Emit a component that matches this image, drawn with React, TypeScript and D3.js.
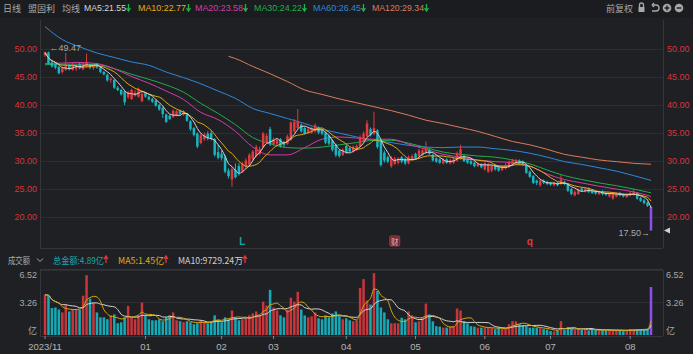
import React from "react";
import * as d3 from "d3";

const W = 693;
const H = 354;

// ---------- data ----------
const opens = [48.8,49.3,47.5,47.2,46.7,45.8,46.2,47.0,46.2,46.4, 47.2,46.3,46.8,47.0,46.5,47.2,46.6,45.8,45.3,44.4, 44.4,43.0,42.6,42.4,41.3,41.0,41.6,41.4,40.6,42.0, 41.4,41.0,40.7,39.9,39.4,38.2,38.0,37.8,38.1,38.9, 38.2,38.4,37.0,35.8,34.8,33.1,33.8,34.8,34.9,33.8, 31.5,31.2,30.6,28.2,26.6,28.3,29.0,28.0,28.9,29.3, 30.2,30.8,31.2,32.4,33.2,35.6,32.9,33.0,33.8,33.2, 33.0,33.7,35.2,35.8,36.4,35.8,34.9,35.0,35.2,35.9, 35.4,35.0,34.4,33.6,32.8,31.8,31.0,32.6,32.2,31.6, 31.9,32.6,33.5,34.4,35.6,34.8,35.4,33.6,31.4,30.6, 29.0,29.4,29.6,30.6,30.3,29.5,30.2,31.2,30.8,31.0, 31.4,31.9,31.0,30.4,30.2,29.5,30.2,29.5,29.6,30.0, 30.3,30.8,30.1,29.9,29.6,29.0,29.3,28.4,28.0,28.2, 29.2,28.8,28.3,28.6,28.9,29.3,29.5,30.0,29.8,29.2, 28.0,27.2,26.4,25.6,26.4,26.2,26.0,25.6,26.0,25.8, 26.2,25.8,24.9,23.8,24.0,25.0,24.5,25.0,24.6,24.4, 24.0,24.5,24.2,23.6,23.2,23.6,24.2,23.9,23.5,23.8, 23.9,24.2,23.3,22.9,22.5,21.7];
const closes = [49.3,47.4,46.8,46.6,45.6,46.5,47.0,46.3,47.2,46.9, 46.5,47.3,47.6,46.6,47.1,46.6,45.8,45.4,44.3,44.6, 43.0,42.6,41.8,40.4,42.2,42.6,42.1,42.8,41.9,41.4, 40.9,40.5,39.8,39.1,38.3,36.9,37.4,38.9,38.8,38.3, 38.8,37.1,35.6,34.6,32.5,34.5,34.6,34.0,33.9,31.0, 30.5,30.4,28.0,27.2,28.5,27.0,27.8,29.4,30.0,31.0, 31.6,32.4,32.0,34.8,34.4,32.9,33.8,33.7,32.6,32.8, 34.3,36.8,36.9,37.0,35.2,34.8,35.6,35.7,36.3,35.0, 34.8,33.2,33.0,31.9,31.0,30.8,31.9,31.5,31.6,32.4, 32.6,34.2,34.8,36.6,34.6,35.8,32.4,29.2,30.0,29.8, 30.5,30.4,30.3,29.8,29.5,30.6,30.8,30.4,31.8,31.8, 32.2,31.2,30.0,29.8,29.6,30.2,29.6,30.0,30.2,31.3, 32.0,29.9,29.6,29.4,29.0,29.4,28.8,29.5,29.3,29.0, 28.4,28.2,29.0,29.2,29.8,30.0,30.1,29.4,29.2,27.8, 27.1,26.0,26.0,26.4,26.0,25.8,25.7,26.0,25.6,26.6, 25.8,24.6,24.0,24.4,24.8,24.6,25.0,24.4,24.2,24.1, 24.4,24.0,23.9,24.1,24.0,24.0,23.8,23.6,23.9,24.2, 24.4,23.2,22.8,22.4,21.88,17.5];
const highs = [49.4,49.47,47.8,47.4,46.9,46.8,49.2,47.2,47.5,47.1, 47.5,47.5,49.1,47.3,47.3,47.4,46.8,46.0,45.5,44.9, 44.5,43.3,42.8,42.5,42.4,42.8,42.6,43.0,42.2,42.2, 41.6,41.2,40.9,40.1,39.6,38.4,38.2,39.1,39.0,39.1, 39.0,38.5,37.2,36.0,35.0,34.9,35.0,35.2,35.3,34.0, 32.8,31.8,31.0,28.6,28.8,29.5,29.5,29.7,30.4,31.3, 31.9,32.8,32.5,35.1,34.8,36.0,34.1,34.0,34.0,33.5, 34.6,37.0,37.4,39.2,36.6,36.0,35.9,36.0,36.6,36.1, 35.6,35.2,34.6,33.8,33.0,32.0,32.2,32.8,32.4,32.7, 32.9,34.5,35.2,37.2,35.9,38.7,35.6,33.9,31.8,30.9, 30.8,30.7,30.6,30.8,30.5,30.9,31.1,31.4,32.1,32.2, 33.4,32.1,31.2,30.6,30.4,30.4,30.4,30.3,30.5,31.6, 32.8,31.0,30.3,30.1,29.8,29.6,29.5,29.7,29.6,29.3, 29.4,29.0,29.2,29.5,30.0,30.3,30.3,30.2,30.0,29.4, 28.2,27.4,26.6,26.7,26.6,26.4,26.2,26.2,26.2,27.4, 26.4,26.0,25.1,24.7,25.0,25.2,25.2,25.2,24.8,24.6, 24.6,24.7,24.4,24.3,24.2,24.3,24.4,24.1,24.1,24.4, 25.0,24.3,23.5,23.1,22.7,21.9];
const lows = [48.5,47.2,46.6,46.3,45.4,45.5,46.0,46.1,46.0,46.0, 46.3,46.1,46.5,46.3,46.2,46.4,45.6,45.2,44.1,43.9, 42.8,42.4,41.6,39.9,41.0,40.8,41.4,41.2,40.4,41.2, 40.7,40.3,39.6,38.9,37.6,36.7,37.2,37.6,37.9,38.1, 38.0,36.9,35.3,34.3,32.2,32.9,33.5,33.6,33.6,30.7, 30.2,30.0,27.7,26.8,25.3,26.8,27.3,27.8,28.6,29.0, 29.9,30.6,30.9,32.2,33.0,32.6,32.6,32.7,32.3,32.3, 32.8,33.5,35.0,35.6,35.0,34.6,34.7,34.8,35.0,34.7, 34.5,32.9,32.7,31.6,30.6,30.5,30.8,31.2,31.4,31.4, 31.7,32.4,33.3,34.2,34.3,34.5,32.1,28.9,29.6,29.5, 28.7,29.2,29.3,29.5,29.2,29.3,30.0,30.2,30.6,30.8, 31.2,31.0,29.8,29.6,29.4,29.3,29.4,29.3,29.4,29.8, 30.1,29.7,29.4,29.2,28.8,28.8,28.6,28.2,27.8,27.9, 28.2,28.0,28.1,28.4,28.7,29.1,29.3,29.2,29.0,27.6, 26.9,25.8,25.6,25.3,25.8,25.6,25.5,25.4,25.4,25.6, 25.6,24.4,23.8,23.6,23.9,24.4,24.3,24.2,24.0,23.9, 23.8,23.8,23.7,23.4,23.0,23.4,23.6,23.4,23.3,23.6, 23.7,23.0,22.6,22.2,21.7,17.5];
// turnover, 亿
const volumes = [4.1,4.0,2.75,2.8,2.6,2.3,3.1,2.4,2.6,2.6, 2.6,4.0,6.1,3.7,3.3,2.3,1.8,1.8,1.6,2.0, 2.1,1.2,1.3,1.8,2.95,1.8,1.6,2.0,3.3,2.0, 1.6,1.5,1.5,1.6,1.4,1.8,2.0,2.3,1.5,1.4, 1.3,1.4,1.3,1.1,1.2,1.5,1.3,1.2,1.4,2.0, 1.6,1.3,1.8,1.6,2.5,1.8,1.5,1.6,1.7,2.0, 2.2,2.4,2.0,3.4,3.0,4.6,2.8,2.5,2.0,1.8, 2.6,3.8,3.4,4.4,2.6,2.0,1.8,1.9,2.3,1.7, 1.6,2.0,1.8,2.2,2.4,1.9,1.6,1.7,1.5,1.4, 1.5,4.8,5.7,3.5,3.1,6.3,4.5,2.8,2.3,1.6, 1.2,1.2,1.2,1.76,1.6,2.4,2.0,1.3,1.4,1.8, 3.2,2.1,1.4,0.9,0.85,0.75,0.75,0.85,0.9,2.7, 2.5,1.4,1.2,0.9,0.85,0.75,0.75,0.75,0.75,0.7, 0.6,0.75,0.6,0.65,1.1,1.4,1.4,1.1,1.0,0.9, 0.75,0.75,0.75,0.7,0.6,0.55,0.4,0.35,0.45,1.4, 0.55,0.8,0.6,0.5,0.7,0.55,0.5,0.45,0.6,0.5, 0.45,0.5,0.45,0.55,0.5,0.48,0.45,0.4,0.5,0.6, 0.55,0.55,0.6,0.55,0.65,4.89];
const limitDownDays = [175];

const maSampleDays = [0,5,10,15,20,25,30,35,40,45,50,55,60,65,70,75,80,85,90,95,100,105,110,115,120,125,130,135,140,145,150,155,160,165,170,175];
const ma20 = [47.3,47.4,47.5,47.3,46.4,45.0,43.8,42.4,40.9,38.6,37.3,35.2,32.4,31.0,31.0,32.3,33.8,34.2,34.0,33.8,33.8,32.9,32.0,31.1,30.6,30.1,29.8,29.6,29.0,27.6,26.6,26.0,25.4,24.9,24.4,23.58];
const ma30 = [47.1,47.2,47.2,47.1,46.4,45.4,44.5,43.5,42.2,40.2,38.4,36.4,34.1,33.0,32.3,32.2,32.4,32.8,33.2,33.6,33.6,33.1,32.3,31.5,31.1,30.8,30.6,30.1,29.4,28.3,27.3,26.6,26.0,25.5,24.9,24.22];
const ma60 = [53.9,51.6,50.3,49.2,48.4,47.6,47.0,45.8,44.8,43.7,42.4,41.1,39.3,38.4,37.5,36.6,35.6,34.9,34.2,33.6,33.2,32.7,32.4,32.3,32.4,32.4,32.1,31.8,31.3,30.6,29.8,29.3,28.7,28.1,27.3,26.45];
const ma120Days = [53,55,60,65,70,75,80,85,90,95,100,105,110,115,120,125,130,135,140,145,150,155,160,165,170,175];
const ma120 = [48.6,48.2,46.8,45.5,44.1,42.6,41.8,41.0,40.3,39.6,38.9,38.1,37.2,36.6,35.9,35.2,34.3,33.4,32.8,32.0,31.1,30.6,30.1,29.8,29.5,29.34];

const priceTicks = [20, 25, 30, 35, 40, 45, 50];
const volTicks = [3.26, 6.52];
const monthLabels = ["2023/11", "01", "02", "03", "04", "05", "06", "07", "08"];
const monthStartDays = [0, 29, 51, 66, 87, 107, 127, 146, 169];
const eventDays = [57, 101, 140];
const eventLabels = ["L", "财", "q"];

const maLegend = [
  { name: "MA5", value: "21.55", color: "#d6d6d6" },
  { name: "MA10", value: "22.77", color: "#e2ad14" },
  { name: "MA20", value: "23.58", color: "#d23ca9" },
  { name: "MA30", value: "24.22", color: "#20ad4b" },
  { name: "MA60", value: "26.45", color: "#2d88dd" },
  { name: "MA120", value: "29.34", color: "#dc7b5b" },
];
const maLegendX = [84, 138, 195, 254, 313, 372];
const maLegendW = [42, 48, 48, 48, 48, 52];

// ---------- style ----------
const BG = "#1f2024";
const GRID = "#2c2d32";
const AXIS = "#35363b";
const RED = "#e0393e";
const CYAN = "#17b5c2";
const VRED = "#c8363c";
const VCYAN = "#16a9b6";
const PURPLE = "#8d4fe6";
const LABEL_RED = "#d8343b";
const GRAY = "#a8a8a8";
const FONT = "'Liberation Sans', Arial, sans-serif";
const CJK = "'Noto Sans CJK SC', 'Noto Sans', sans-serif";

const L = 40, R = 663;
const MAIN_TOP = 20, MAIN_BOT = 248;
const VOL_TOP = 270, VOL_BOT = 336;

function movingAverage(vals: number[], n: number): number[] {
  return vals.map((_, i) => d3.mean(vals.slice(Math.max(0, i - n + 1), i + 1)) as number);
}

export default function App() {
  const N = closes.length;
  const x = d3.scaleLinear().domain([0, N - 1]).range([45, 651]);
  const y = d3.scaleLinear().domain([14.375, 55.09]).range([MAIN_BOT, MAIN_TOP]);
  const yv = d3.scaleLinear().domain([0, 6.52]).range([335, 271]);
  const bw = 2.5;

  const ma5 = movingAverage(closes, 5);
  const ma10 = movingAverage(closes, 10);
  const vma5 = movingAverage(volumes, 5);
  const vma10 = movingAverage(volumes, 10);

  const lineIdx = d3.line<number>().x((_, i) => x(i)).y((d) => y(d)).curve(d3.curveMonotoneX);
  const lineSampled = (days: number[], vals: number[]) =>
    d3.line<number>().x((_, i) => x(days[i])).y((d) => y(d)).curve(d3.curveMonotoneX)(vals) || "";
  const vline = d3.line<number>().x((_, i) => x(i)).y((d) => yv(d)).curve(d3.curveMonotoneX);

  const colorOf = (i: number) =>
    limitDownDays.includes(i) ? PURPLE : closes[i] >= opens[i] ? RED : CYAN;
  const vcolorOf = (i: number) =>
    limitDownDays.includes(i) ? PURPLE : closes[i] >= opens[i] ? VRED : VCYAN;

  const hiIdx = d3.maxIndex(highs);
  const loIdx = d3.minIndex(lows);

  return (
    <svg width={W} height={H} style={{ position: "fixed", left: 0, top: 0, background: BG }}
      fontFamily={FONT}>
      <rect x={0} y={0} width={W} height={H} fill={BG} />
      <rect x={0} y={0} width={W} height={18} fill="#1b1c20" />

      {/* header */}
      <g fontSize={9} dominantBaseline="central">
        <text x={3} y={8} fill={GRAY} fontFamily={CJK}>日线</text>
        <text x={28} y={8} fill={GRAY} fontFamily={CJK}>盟固利</text>
        <text x={62} y={8} fill={GRAY} fontFamily={CJK}>均线</text>
        {maLegend.map((m, k) => (
          <g key={m.name}>
            <text x={maLegendX[k]} y={8} fill={m.color} textLength={maLegendW[k]} lengthAdjust="spacingAndGlyphs">
              {`${m.name}:${m.value}`}
            </text>
            <path d={`M${maLegendX[k] + maLegendW[k] + 2.5},4 v6 M${maLegendX[k] + maLegendW[k] + 0.5},8 l2,3 l2,-3`}
              stroke="#22b14c" strokeWidth={1.3} fill="none" />
          </g>
        ))}
        <text x={606} y={8} fill={GRAY} fontFamily={CJK}>前复权</text>
      </g>
      {/* header icons */}
      <g fill="none" stroke={GRAY} strokeWidth={1.3}>
        <rect x={638.5} y={7} width={6} height={5} fill={GRAY} stroke="none" />
        <path d="M639.5,7 v-2 a2,2 0 0 1 4,0 v2" />
        <path d="M652,5 h4 a3,3 0 0 1 0,6 h-4" />
        <path d="M652,5 l2,-2 M652,5 l2,2" />
      </g>
      <circle cx={667} cy={8} r={4.3} fill={GRAY} />
      <path d="M664.6,8 h4.8 M667,5.6 v4.8" stroke="#1b1c20" strokeWidth={1.4} />
      <circle cx={679} cy={8} r={4.3} fill={GRAY} />
      <path d="M676.6,8 h4.8" stroke="#1b1c20" strokeWidth={1.4} />

      {/* main grid */}
      {priceTicks.map((t) => (
        <line key={t} x1={L} x2={R} y1={Math.round(y(t)) + 0.5} y2={Math.round(y(t)) + 0.5} stroke={GRID} />
      ))}
      <line x1={L} x2={R} y1={MAIN_BOT + 0.5} y2={MAIN_BOT + 0.5} stroke={AXIS} />
      <line x1={L + 0.5} x2={L + 0.5} y1={MAIN_TOP} y2={MAIN_BOT} stroke={AXIS} />
      <line x1={R + 0.5} x2={R + 0.5} y1={MAIN_TOP} y2={MAIN_BOT} stroke={AXIS} />
      <g fontSize={9} fill={LABEL_RED} dominantBaseline="central">
        {priceTicks.map((t) => (
          <text key={t} x={37} y={y(t)} textAnchor="end">{t.toFixed(2)}</text>
        ))}
        {priceTicks.map((t) => (
          <text key={"r" + t} x={667} y={y(t)}>{t.toFixed(2)}</text>
        ))}
      </g>

      {/* MA lines */}
      <g fill="none" strokeWidth={1}>
        <path d={lineSampled(ma120Days, ma120)} stroke={maLegend[5].color} />
        <path d={lineSampled(maSampleDays, ma60)} stroke={maLegend[4].color} />
        <path d={lineSampled(maSampleDays, ma30)} stroke={maLegend[3].color} />
        <path d={lineSampled(maSampleDays, ma20)} stroke={maLegend[2].color} />
      </g>

      {/* candles */}
      {closes.map((c, i) => {
        const o = opens[i];
        const col = colorOf(i);
        const top = y(Math.max(o, c));
        const bot = y(Math.min(o, c));
        return (
          <g key={i}>
            <line x1={x(i)} x2={x(i)} y1={y(highs[i])} y2={y(lows[i])} stroke={col} strokeWidth={1} />
            <rect x={x(i) - bw / 2} y={top} width={bw} height={Math.max(1, bot - top)} fill={col} />
          </g>
        );
      })}

      <g fill="none" strokeWidth={1}>
        <path d={lineIdx(ma10) || ""} stroke={maLegend[1].color} />
        <path d={lineIdx(ma5) || ""} stroke={maLegend[0].color} />
      </g>

      {/* high / low annotations */}
      <text x={x(hiIdx) + 1} y={y(highs[hiIdx]) - 3} fontSize={9} fill={GRAY} dominantBaseline="central">←{highs[hiIdx].toFixed(2)}</text>
      <text x={x(loIdx) - 1} y={y(lows[loIdx]) + 2} fontSize={9} fill={GRAY} textAnchor="end" dominantBaseline="central">{lows[loIdx].toFixed(2)}→</text>
      <path d={`M${R + 1},${y(closes[N - 1])} l6,-3 v6 z`} fill="#cfcfcf" />

      {/* event markers */}
      {eventDays.map((d, k) => {
        const cx = x(d);
        if (eventLabels[k] === "财") {
          return (
            <g key={k}>
              <rect x={cx - 5} y={236} width={10} height={10} rx={1} fill="#6d2a2f" stroke="#9b3a40" />
              <text x={cx} y={241.5} fontSize={7.5} fill="#e6b7b9" textAnchor="middle" dominantBaseline="central" fontFamily={CJK}>财</text>
            </g>
          );
        }
        return (
          <text key={k} x={cx} y={241} fontSize={10} fontWeight="bold" textAnchor="middle" dominantBaseline="central"
            fill={eventLabels[k] === "L" ? "#17a3a8" : "#e0393e"}>{eventLabels[k]}</text>
        );
      })}

      {/* volume header */}
      <g fontSize={9} dominantBaseline="central">
        <text x={8} y={260} fill={GRAY} fontFamily={CJK} textLength={22} lengthAdjust="spacingAndGlyphs">成交额</text>
        <path d="M37,258.5 l3,3 l3,-3" fill="none" stroke={GRAY} strokeWidth={1} />
        <text x={53} y={260} fill="#18a7ad" fontFamily={CJK} textLength={51} lengthAdjust="spacingAndGlyphs">总金额:4.89亿</text>
        <text x={118} y={260} fill="#e2ad14" fontFamily={CJK} textLength={46} lengthAdjust="spacingAndGlyphs">MA5:1.45亿</text>
        <text x={178} y={260} fill="#cfcfcf" fontFamily={CJK} textLength={65} lengthAdjust="spacingAndGlyphs">MA10:9729.24万</text>
        {[106, 166, 245].map((ax) => (
          <path key={ax} d={`M${ax},263 v-6 M${ax - 2},259 l2,-3 l2,3`} stroke="#e0393e" strokeWidth={1.3} fill="none" />
        ))}
      </g>

      {/* volume panel */}
      <line x1={L} x2={R} y1={VOL_TOP - 0.5} y2={VOL_TOP - 0.5} stroke={AXIS} />
      {volTicks.map((t) => (
        <line key={t} x1={L} x2={R} y1={Math.round(yv(t)) - 0.5} y2={Math.round(yv(t)) - 0.5} stroke={GRID} />
      ))}
      <line x1={L + 0.5} x2={L + 0.5} y1={VOL_TOP} y2={VOL_BOT} stroke={AXIS} />
      <line x1={R + 0.5} x2={R + 0.5} y1={VOL_TOP} y2={VOL_BOT} stroke={AXIS} />
      <line x1={L} x2={R} y1={VOL_BOT + 0.5} y2={VOL_BOT + 0.5} stroke={AXIS} />
      {volumes.map((v, i) => (
        <rect key={i} x={x(i) - bw / 2} y={yv(v)} width={bw} height={yv(0) - yv(v)} fill={vcolorOf(i)} />
      ))}
      <g fill="none" strokeWidth={1}>
        <path d={vline(vma10) || ""} stroke="#d4d4d4" />
        <path d={vline(vma5) || ""} stroke="#d8a810" />
      </g>
      <g fontSize={9} fill={GRAY} dominantBaseline="central">
        <text x={37} y={yv(6.52) + 4} textAnchor="end">6.52</text>
        <text x={37} y={yv(3.26)} textAnchor="end">3.26</text>
        <text x={37} y={yv(0) - 5} textAnchor="end" fontFamily={CJK}>亿</text>
        <text x={666} y={yv(6.52) + 4}>6.52</text>
        <text x={666} y={yv(3.26)}>3.26</text>
        <text x={666} y={yv(0) - 5} fontFamily={CJK}>亿</text>
      </g>

      {/* x axis */}
      {monthStartDays.map((d, k) => (
        <g key={k}>
          <line x1={x(d)} x2={x(d)} y1={VOL_BOT} y2={VOL_BOT + 3} stroke="#8a8a8a" />
          <text x={x(d)} y={346} fontSize={9.5} fill="#b5b5b5" textAnchor="middle" dominantBaseline="central">{monthLabels[k]}</text>
        </g>
      ))}
    </svg>
  );
}
